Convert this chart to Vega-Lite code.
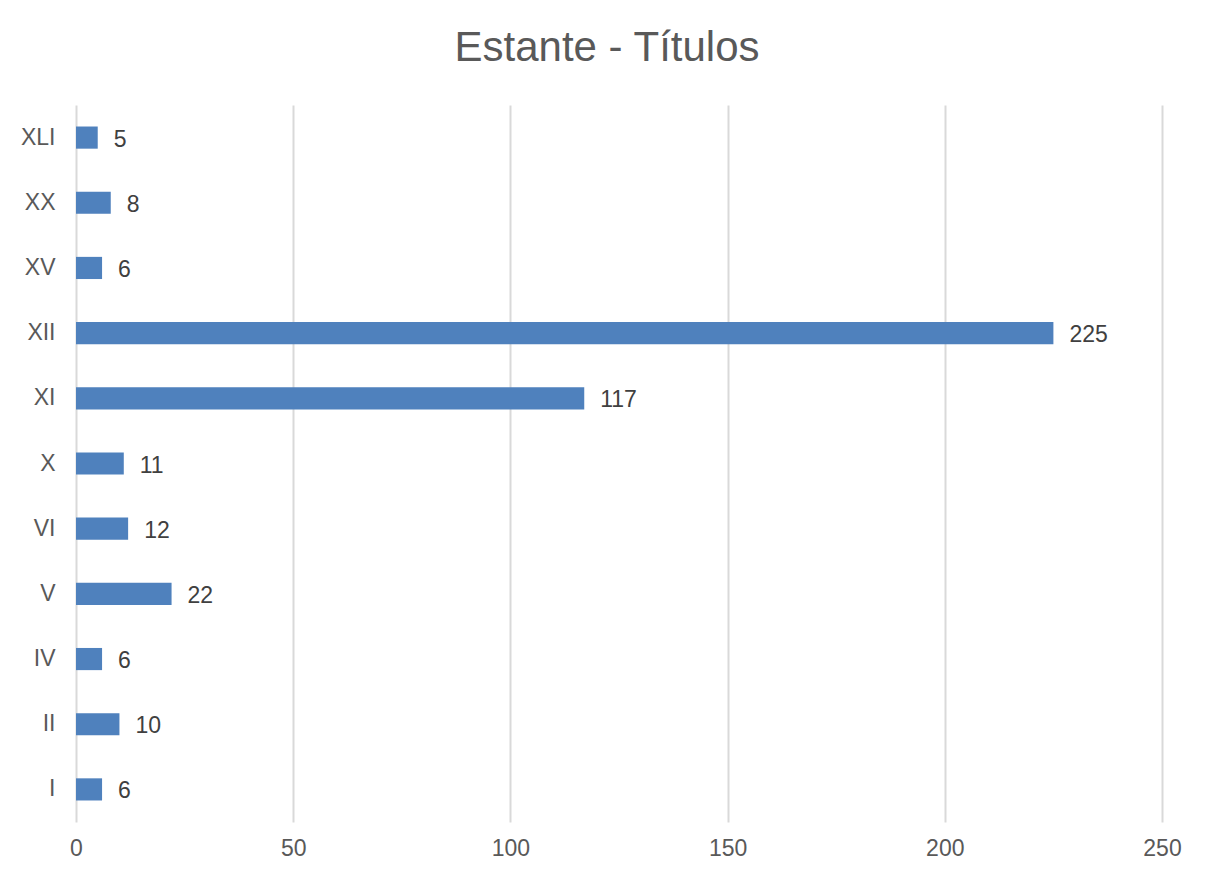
{
  "$schema": "https://vega.github.io/schema/vega-lite/v6.json",
  "autosize": {"type": "none"},
  "padding": {"left": 76, "top": 105, "right": 50, "bottom": 59},
  "width": 1086,
  "height": 717,
  "background": "white",
  "title": {
    "text": "Estante - Títulos",
    "font": "Liberation Sans",
    "fontSize": 42,
    "fontWeight": "normal",
    "color": "#595959",
    "anchor": "middle",
    "dx": -12,
    "offset": 2,
    "baseline": "alphabetic"
  },
  "data": {
    "values": [
      {"estante": "XLI", "titulos": 5},
      {"estante": "XX", "titulos": 8},
      {"estante": "XV", "titulos": 6},
      {"estante": "XII", "titulos": 225},
      {"estante": "XI", "titulos": 117},
      {"estante": "X", "titulos": 11},
      {"estante": "VI", "titulos": 12},
      {"estante": "V", "titulos": 22},
      {"estante": "IV", "titulos": 6},
      {"estante": "II", "titulos": 10},
      {"estante": "I", "titulos": 6}
    ]
  },
  "encoding": {
    "y": {
      "field": "estante",
      "type": "nominal",
      "sort": null,
      "scale": {"paddingInner": 0.66, "paddingOuter": 0.33},
      "axis": {
        "title": null,
        "domain": false,
        "ticks": false,
        "labelPadding": 21,
        "labelFont": "Liberation Sans",
        "labelFontSize": 23,
        "labelColor": "#595959",
        "grid": false
      }
    },
    "x": {
      "field": "titulos",
      "type": "quantitative",
      "scale": {"domain": [0, 250], "nice": false},
      "axis": {
        "title": null,
        "values": [0, 50, 100, 150, 200, 250],
        "domain": false,
        "ticks": false,
        "labelFlush": false,
        "labelPadding": 15,
        "labelFont": "Liberation Sans",
        "labelFontSize": 23,
        "labelColor": "#595959",
        "grid": true,
        "gridColor": "#d9d9d9",
        "gridWidth": 2
      }
    }
  },
  "layer": [
    {"mark": {"type": "bar", "color": "#4f81bd"}},
    {
      "mark": {
        "type": "text",
        "align": "left",
        "baseline": "middle",
        "dx": 16,
        "dy": 2,
        "font": "Liberation Sans",
        "fontSize": 23,
        "color": "#404040"
      },
      "encoding": {"text": {"field": "titulos", "type": "quantitative"}}
    }
  ],
  "config": {"view": {"stroke": null}}
}
